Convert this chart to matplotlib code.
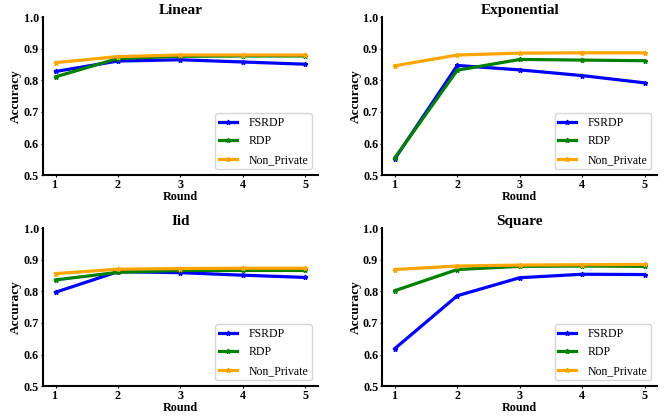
import matplotlib
matplotlib.use("Agg")
import matplotlib.pyplot as plt

rounds = [1, 2, 3, 4, 5]
titles = ["Linear", "Exponential", "Iid", "Square"]
series_names = ["FSRDP", "RDP", "Non_Private"]
colors = ["blue", "green", "orange"]

linear_fsrdp = [0.828, 0.861, 0.865, 0.858, 0.851]
linear_rdp = [0.811, 0.869, 0.876, 0.877, 0.877]
linear_np = [0.856, 0.875, 0.880, 0.880, 0.880]

exp_fsrdp = [0.552, 0.847, 0.833, 0.815, 0.792]
exp_rdp = [0.555, 0.832, 0.866, 0.864, 0.862]
exp_np = [0.846, 0.880, 0.886, 0.887, 0.887]

iid_fsrdp = [0.797, 0.862, 0.859, 0.851, 0.844]
iid_rdp = [0.836, 0.860, 0.866, 0.866, 0.866]
iid_np = [0.856, 0.870, 0.872, 0.873, 0.873]

sq_fsrdp = [0.619, 0.786, 0.843, 0.854, 0.853]
sq_rdp = [0.802, 0.869, 0.879, 0.880, 0.879]
sq_np = [0.869, 0.880, 0.883, 0.884, 0.885]

data = [
    [linear_fsrdp, linear_rdp, linear_np],
    [exp_fsrdp, exp_rdp, exp_np],
    [iid_fsrdp, iid_rdp, iid_np],
    [sq_fsrdp, sq_rdp, sq_np],
]

plt.rcParams['font.family'] = ['Liberation Serif', 'DejaVu Serif']

fig, axes = plt.subplots(2, 2, figsize=(6.67, 4.17), dpi=100)
for ax, title, ser in zip(axes.flat, titles, data):
    for name, vals, c in zip(series_names, ser, colors):
        ax.plot(rounds, vals, color=c, linewidth=2.3, marker='*', markersize=3.5, label=name)
    ax.set_ylim(0.5, 1.0)
    ax.set_xticks(rounds)
    ax.set_yticks([0.5, 0.6, 0.7, 0.8, 0.9, 1.0])
    ax.set_title(title, fontsize=11, fontweight='bold', pad=1.5)
    ax.set_xlabel("Round", fontsize=8.7, fontweight='bold', labelpad=0)
    ax.set_ylabel("Accuracy", fontsize=9.5, fontweight='bold', labelpad=1)
    for lab in ax.get_xticklabels() + ax.get_yticklabels():
        lab.set_fontweight('bold')
        lab.set_fontsize(8.7)
    ax.spines['top'].set_visible(False)
    ax.spines['right'].set_visible(False)
    ax.spines['left'].set_linewidth(1.5)
    ax.spines['bottom'].set_linewidth(1.5)
    ax.tick_params(length=1.5, width=0.8, pad=1.5)
    ax.legend(loc='lower right', fontsize=8.5, fancybox=True, handlelength=1.5,
              handletextpad=1.0, labelspacing=0.55, borderpad=0.3)

fig.subplots_adjust(left=0.0645, right=0.985, top=0.959, bottom=0.074, wspace=0.236, hspace=0.335)
fig.savefig("out.png", dpi=100)
